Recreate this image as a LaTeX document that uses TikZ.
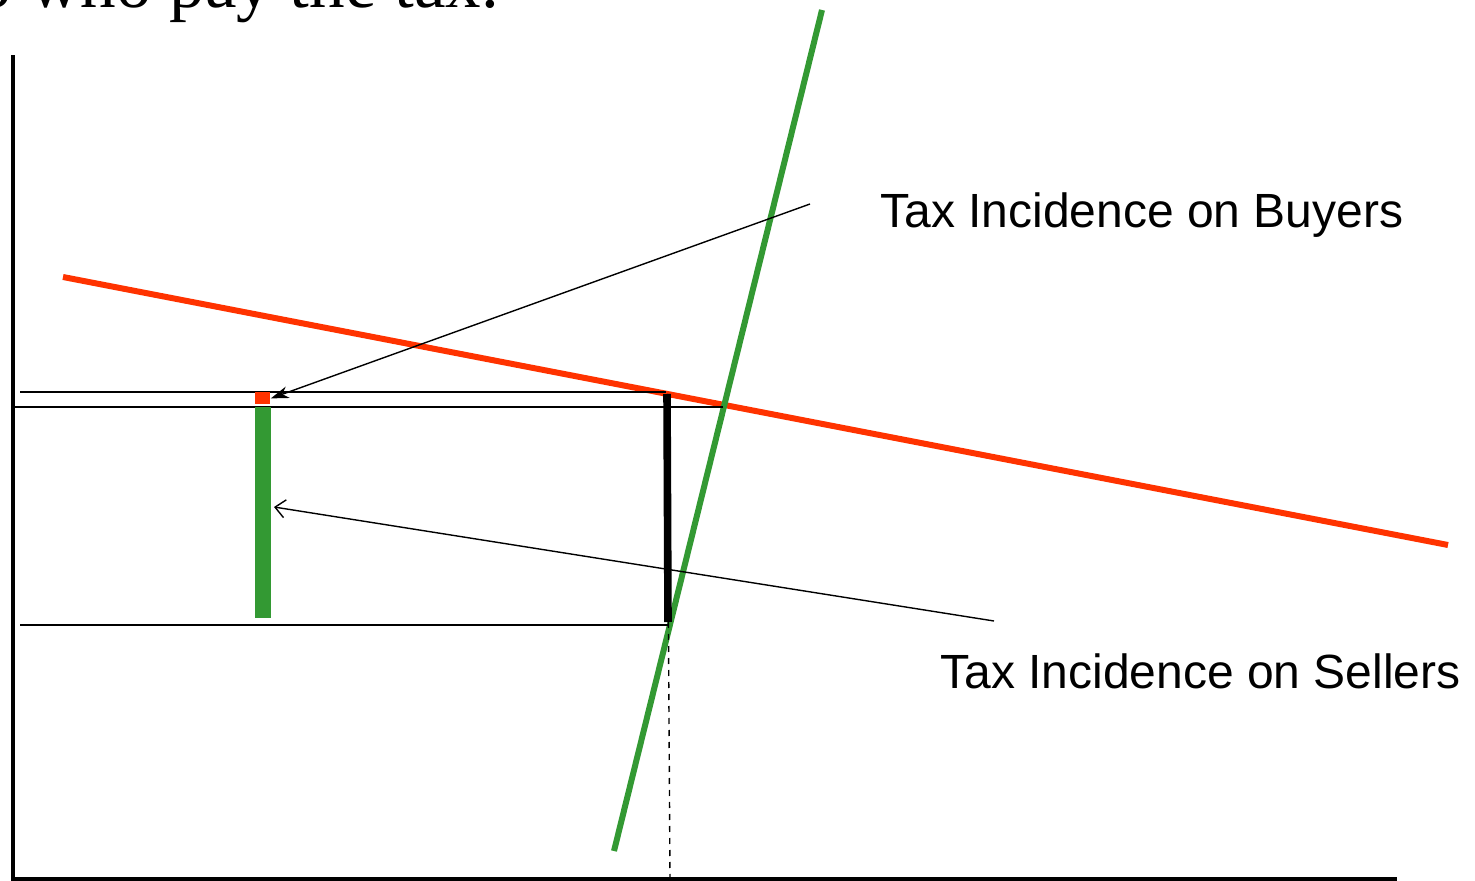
\documentclass[tikz,border=0pt]{standalone}
\usepackage{fontspec}
\setmainfont{Liberation Serif}
\newfontfamily\labelfont{Liberation Sans}
\usepackage{xcolor}
\usetikzlibrary{arrows.meta,positioning,calc}
\definecolor{demandred}{RGB}{255,51,0}
\definecolor{supplygreen}{RGB}{51,153,51}

\begin{document}
\begin{tikzpicture}[
x=0.5pt,
y=-0.5pt,
axisline/.style={line width=2.4pt,line cap=rect},
guide/.style={line width=0.7pt},
demand/.style={line width=3pt,draw=demandred},
supply/.style={line width=3pt,draw=supplygreen},
taxbar/.style={line width=3.8pt},
pointer/.style={line width=0.7pt},
tlabel/.style={font=\labelfont\fontsize{24}{28}\selectfont,anchor=base west,inner sep=0pt},
ttitle/.style={font=\fontsize{35.5}{42}\selectfont,anchor=base west,inner sep=0pt}
]
\useasboundingbox (0,0) rectangle (1475,881);

% axes
\coordinate (yTop) at (13,57);
\coordinate (origin) at (13,879);
\coordinate (xEnd) at (1395,879);
\draw[axisline] (yTop) -- (origin) -- (xEnd);

% demand and supply
\coordinate (dStart) at (63,277);
\coordinate (dEnd) at (1448,545);
\coordinate (sTop) at (822,10);
\coordinate (sBot) at (614,851);
\draw[demand] (dStart) -- (dEnd);
\draw[supply] (sTop) -- (sBot);

% price levels
\coordinate (pbL) at (20,392);
\coordinate (pbR) at (666,392);
\coordinate (peL) at (15,407);
\coordinate (peR) at (723,407);
\coordinate (psL) at (20,625);
\coordinate (psR) at (668,625);
\draw[guide] (pbL) -- (pbR);
\draw[guide] (peL) -- (peR);
\draw[guide] (psL) -- (psR);

% tax wedge
\coordinate (wTop) at (667,394);
\coordinate (wBot) at (668,622);
\coordinate (qBot) at (670,881);
\draw[taxbar] (wTop) -- (wBot);
\draw[guide,dashed] (wTop) -- (qBot);

% incidence bars
\node[fill=demandred,inner sep=0pt,minimum width=7.5pt,minimum height=6pt,anchor=north west] (buyBar) at (255,392) {};
\node[fill=supplygreen,inner sep=0pt,minimum width=8pt,minimum height=105.5pt,anchor=north west] (sellBar) at (255,407) {};

% labels
\node[ttitle] (title) at (-24,8) {o who pay the tax.};
\node[tlabel] (buyLbl) at (880,228) {Tax Incidence on Buyers};
\node[tlabel] (sellLbl) at (940,688) {Tax Incidence on Sellers};

\coordinate (buyTail) at (810,204);
\coordinate (sellTail) at (994,621);
\coordinate (sellTip) at (274,507);
\draw[pointer,-{Stealth[length=9pt,width=6pt]}] (buyTail) -- (buyBar.east);
\draw[pointer,-{Straight Barb[length=5pt,width=9pt]}] (sellTail) -- (sellTip);
\end{tikzpicture}
\end{document}
